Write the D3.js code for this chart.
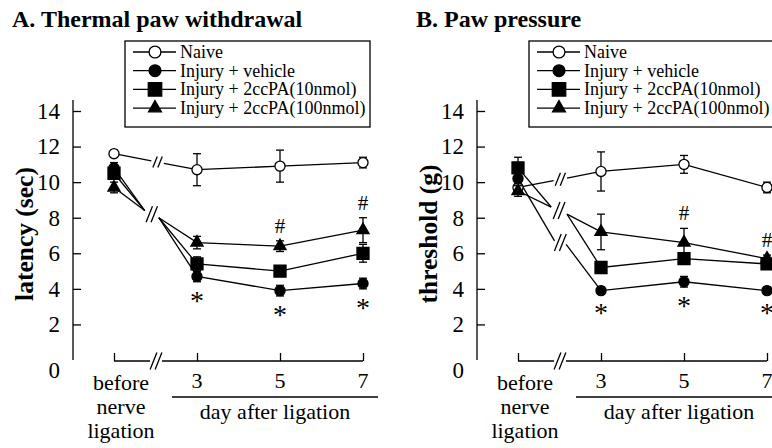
<!DOCTYPE html>
<html>
<head>
<meta charset="utf-8">
<title>Thermal paw withdrawal / Paw pressure</title>
<style>
  body { margin: 0; background: #fff; }
  svg text { font-family: "Liberation Serif", "Times New Roman", serif; fill: #000; }
</style>
</head>
<body>
<svg width="772" height="448"></svg>
<script src="https://cdn.jsdelivr.net/npm/d3@7"></script>
<script>

// x categories and series
const days = ["before", "3", "5", "7"];
const beforeLines = ["before", "nerve", "ligation"];
const seriesNames = ["Naive", "Injury + vehicle", "Injury + 2ccPA(10nmol)", "Injury + 2ccPA(100nmol)"];
const yTicks = [0, 2, 4, 6, 8, 10, 12, 14];

// A. thermal paw withdrawal, latency (sec): mean and SEM per day
const thermalNaive = [11.6, 10.7, 10.9, 11.1];
const thermalNaiveErr = [0.2, 0.9, 0.9, 0.3];
const thermalVehicle = [10.8, 4.7, 3.9, 4.3];
const thermalVehicleErr = [0.3, 0.3, 0.3, 0.3];
const thermal10 = [10.5, 5.4, 5.0, 6.0];
const thermal10Err = [0.3, 0.4, 0.3, 0.5];
const thermal100 = [9.7, 6.6, 6.4, 7.3];
const thermal100Err = [0.3, 0.35, 0.3, 0.7];
const thermalHash = ["", "", "#", "#"];   // over 100nmol
const thermalStar = ["", "*", "*", "*"];  // under vehicle

// B. paw pressure, threshold (g)
const pressureNaive = [9.7, 10.6, 11.0, 9.7];
const pressureNaiveErr = [0.3, 1.1, 0.5, 0.3];
const pressureVehicle = [10.2, 3.9, 4.4, 3.9];
const pressureVehicleErr = [0.3, 0.2, 0.3, 0.2];
const pressure10 = [10.8, 5.2, 5.7, 5.4];
const pressure10Err = [0.6, 0.3, 0.3, 0.2];
const pressure100 = [9.5, 7.2, 6.6, 5.7];
const pressure100Err = [0.3, 1.0, 0.8, 0.2];
const pressureHash = ["", "", "#", "#"];
const pressureStar = ["", "*", "*", "*"];

// where each line is cut by "//" between before and day 3 (x in category units, y in data units; null = on the straight line)
const thermalBreaks = [
  {pre: [0.45, null], post: [0.6, null], h: 11},
  {pre: [0.37, 8.4], post: [0.54, 8.0], h: 16},
  {pre: [0.37, 8.4], post: [0.54, 8.0], h: 16},
  {pre: [0.37, 8.4], post: [0.54, 8.0], h: 16}
];
const pressureBreaks = [
  {pre: [0.43, null], post: [0.59, null], h: 13},
  {pre: [0.44, 6.7], post: [0.58, 6.5], h: 17},
  {pre: [0.40, 8.6], post: [0.59, 8.2], h: 17},
  {pre: [0.40, 8.6], post: [0.59, 8.2], h: 17}
];

const shapes = [d3.symbolCircle, d3.symbolCircle, d3.symbolSquare, d3.symbolTriangle];
const fills = ["#fff", "#000", "#000", "#000"];
const sizes = [80, 80, 144, 64];
const legendSizes = [110, 110, 180, 72];
const sw = 1.3;

const svg = d3.select("svg");

function drawBreak(g, cx, cy, h) {
  const w = h * 0.4, gap = 5;
  [-gap / 2, gap / 2].forEach(o => {
    g.append("line")
      .attr("x1", cx + o - w / 2).attr("y1", cy + h / 2)
      .attr("x2", cx + o + w / 2).attr("y2", cy - h / 2)
      .attr("stroke", "#000").attr("stroke-width", sw);
  });
}

function drawPanel(ox, title, yTitle, means, errs, breaks, hashes, stars) {
  const g = svg.append("g");
  const x = d3.scaleLinear().domain([0, 3]).range([ox + 114, ox + 363]);
  const y = d3.scaleLinear().domain([0, 14]).range([360, 111]);
  const axisX = ox + 73;

  g.append("text").attr("x", ox + 12).attr("y", 27)
    .attr("font-size", 24).attr("font-weight", "bold").text(title);

  // y axis, ticks pointing inward
  const ya = g.append("g").attr("transform", `translate(${axisX},0)`)
    .call(d3.axisLeft(y).tickValues(yTicks).tickSizeInner(-8).tickSizeOuter(0).tickPadding(13));
  ya.select(".domain").remove();
  ya.selectAll(".tick line").attr("stroke-width", sw);
  ya.selectAll(".tick text").attr("font-size", 23).attr("font-family", null);
  ya.selectAll(".tick").filter(d => d === 0).select("line").remove();
  ya.selectAll(".tick").filter(d => d === 0).select("text").attr("dy", "0.75em");
  g.append("line").attr("x1", axisX).attr("x2", axisX).attr("y1", y(0)).attr("y2", 100)
    .attr("stroke", "#000").attr("stroke-width", sw);

  g.append("text")
    .attr("transform", `translate(${ox + 33},234) rotate(-90)`)
    .attr("text-anchor", "middle").attr("font-size", 25.5).attr("font-weight", "bold")
    .text(yTitle);

  // x axis with a break after "before"
  const xa = g.append("g").attr("transform", "translate(0,361)")
    .call(d3.axisBottom(x).tickValues([0, 1, 2, 3]).tickSizeInner(-8).tickSizeOuter(0).tickFormat(""));
  xa.select(".domain").remove();
  xa.selectAll(".tick line").attr("stroke-width", sw);
  const bx = ox + 156;
  g.append("line").attr("x1", x(0)).attr("x2", bx - 6).attr("y1", 361).attr("y2", 361)
    .attr("stroke", "#000").attr("stroke-width", sw);
  g.append("line").attr("x1", bx + 6).attr("x2", x(3)).attr("y1", 361).attr("y2", 361)
    .attr("stroke", "#000").attr("stroke-width", sw);
  drawBreak(g, bx, 361, 17);

  days.slice(1).forEach((d, i) => {
    g.append("text").attr("x", x(i + 1)).attr("y", 388).attr("text-anchor", "middle")
      .attr("font-size", 22).text(d);
  });
  beforeLines.forEach((t, i) => {
    g.append("text").attr("x", x(0) + 7).attr("y", 390 + i * 24).attr("text-anchor", "middle")
      .attr("font-size", 22).text(t);
  });
  g.append("line").attr("x1", x(1) - 25).attr("x2", x(3) + 15).attr("y1", 397).attr("y2", 397)
    .attr("stroke", "#000").attr("stroke-width", sw);
  g.append("text").attr("x", (x(1) - 25 + x(3) + 15) / 2).attr("y", 419).attr("text-anchor", "middle")
    .attr("font-size", 22).text("day after ligation");

  // lines with breaks
  const line = d3.line();
  const drawn = new Set();
  means.forEach((m, s) => {
    const b = breaks[s];
    const preY = b.pre[1] === null ? m[0] + (m[1] - m[0]) * b.pre[0] : b.pre[1];
    const postY = b.post[1] === null ? m[0] + (m[1] - m[0]) * b.post[0] : b.post[1];
    const pre = [x(b.pre[0]), y(preY)], post = [x(b.post[0]), y(postY)];
    g.append("path").attr("d", line([[x(0), y(m[0])], pre]))
      .attr("fill", "none").attr("stroke", "#000").attr("stroke-width", sw);
    g.append("path").attr("d", line([post].concat(m.slice(1).map((v, i) => [x(i + 1), y(v)]))))
      .attr("fill", "none").attr("stroke", "#000").attr("stroke-width", sw);
    const key = b.pre.join() + b.post.join();
    if (!drawn.has(key)) {
      drawn.add(key);
      drawBreak(g, (pre[0] + post[0]) / 2, (pre[1] + post[1]) / 2, b.h);
    }
  });

  // error bars and markers
  means.forEach((m, s) => {
    m.forEach((v, i) => {
      const e = errs[s][i];
      const cx = x(i);
      g.append("line").attr("x1", cx).attr("x2", cx).attr("y1", y(v - e)).attr("y2", y(v + e))
        .attr("stroke", "#000").attr("stroke-width", sw);
      [v - e, v + e].forEach(t => {
        g.append("line").attr("x1", cx - 4).attr("x2", cx + 4).attr("y1", y(t)).attr("y2", y(t))
          .attr("stroke", "#000").attr("stroke-width", sw);
      });
      g.append("path").attr("transform", `translate(${cx},${y(v)})`)
        .attr("d", d3.symbol().type(shapes[s]).size(sizes[s])())
        .attr("fill", fills[s]).attr("stroke", "#000").attr("stroke-width", sw);
    });
  });

  // significance marks
  hashes.forEach((t, i) => {
    if (!t) return;
    g.append("text").attr("x", x(i)).attr("y", y(means[3][i] + errs[3][i]) - 15 + 7)
      .attr("text-anchor", "middle").attr("font-size", 21).text(t);
  });
  stars.forEach((t, i) => {
    if (!t) return;
    g.append("text").attr("x", x(i)).attr("y", y(means[1][i] - errs[1][i]) + 14 + 14)
      .attr("text-anchor", "middle").attr("font-size", 28).text(t);
  });

  // legend
  const lg = g.append("g");
  lg.append("rect").attr("x", ox + 125).attr("y", 41).attr("width", 245).attr("height", 86)
    .attr("fill", "#fff").attr("stroke", "#000").attr("stroke-width", sw);
  seriesNames.forEach((name, s) => {
    const ry = 52 + s * 18.7;
    lg.append("line").attr("x1", ox + 133).attr("x2", ox + 176).attr("y1", ry).attr("y2", ry)
      .attr("stroke", "#000").attr("stroke-width", sw);
    lg.append("path").attr("transform", `translate(${ox + 155},${ry})`)
      .attr("d", d3.symbol().type(shapes[s]).size(legendSizes[s])())
      .attr("fill", fills[s]).attr("stroke", "#000").attr("stroke-width", sw);
    lg.append("text").attr("x", ox + 180).attr("y", ry + 6).attr("font-size", 18).text(name);
  });
}

drawPanel(0, "A. Thermal paw withdrawal", "latency (sec)",
  [thermalNaive, thermalVehicle, thermal10, thermal100],
  [thermalNaiveErr, thermalVehicleErr, thermal10Err, thermal100Err],
  thermalBreaks, thermalHash, thermalStar);

drawPanel(404, "B. Paw pressure", "threshold (g)",
  [pressureNaive, pressureVehicle, pressure10, pressure100],
  [pressureNaiveErr, pressureVehicleErr, pressure10Err, pressure100Err],
  pressureBreaks, pressureHash, pressureStar);

</script>
</body>
</html>
